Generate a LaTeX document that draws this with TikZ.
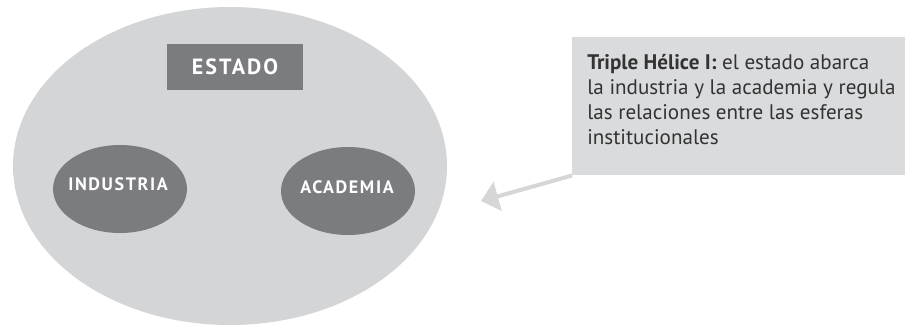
\documentclass[tikz,border=0pt]{standalone}
\usepackage{fontspec}
\setmainfont{PT Sans}
\newfontfamily\lblfont[LetterSpace=9]{PT Sans}
\usetikzlibrary{arrows.meta}
\definecolor{bigfill}{HTML}{D4D5D7}
\definecolor{darkfill}{HTML}{7B7C80}
\definecolor{boxfill}{HTML}{DADBDD}
\definecolor{txtcol}{HTML}{333333}
\definecolor{arrcol}{HTML}{D6D6D6}
\begin{document}
\begin{tikzpicture}[x=0.75pt,y=-0.75pt,
  lbl/.style={text=white, inner sep=0pt, font=\lblfont\bfseries\fontsize{13.5}{15}\selectfont},
  callout/.style={fill=boxfill, inner sep=0pt},
  note/.style={text=txtcol, align=left, anchor=north west, inner sep=0pt, font=\fontsize{15.8}{18.8}\selectfont},
  pointer/.style={draw=arrcol, line width=3pt, -{Triangle[width=22pt,length=13pt]}}]
\useasboundingbox (0,0) rectangle (905,325);
\fill[white] (0,0) rectangle (905,325);
% outer state sphere
\fill[bigfill] (230,166) ellipse [x radius=217, y radius=159];
\node[fill=darkfill, minimum width=102pt, minimum height=34.5pt, lbl, font=\lblfont\bfseries\fontsize{16.5}{18}\selectfont] (estado) at (235,67) {ESTADO};
\fill[darkfill] (120,189) ellipse [x radius=67, y radius=44];
\node[lbl] (industria) at (118,184) {INDUSTRIA};
\fill[darkfill] (348,191) ellipse [x radius=67, y radius=44];
\node[lbl] (academia) at (347,187) {ACADEMIA};
% callout
\node[callout, minimum width=249.75pt, minimum height=103.5pt, anchor=north west] (box) at (572,37) {};
\node[note] (txt) at (587,54) {\textbf{Triple Hélice I:} el estado abarca\\la industria y la academia y regula\\las relaciones entre las esferas\\institucionales};
\coordinate (tip) at (481,201);
\draw[pointer] (box.south west) -- (tip);
\end{tikzpicture}
\end{document}
